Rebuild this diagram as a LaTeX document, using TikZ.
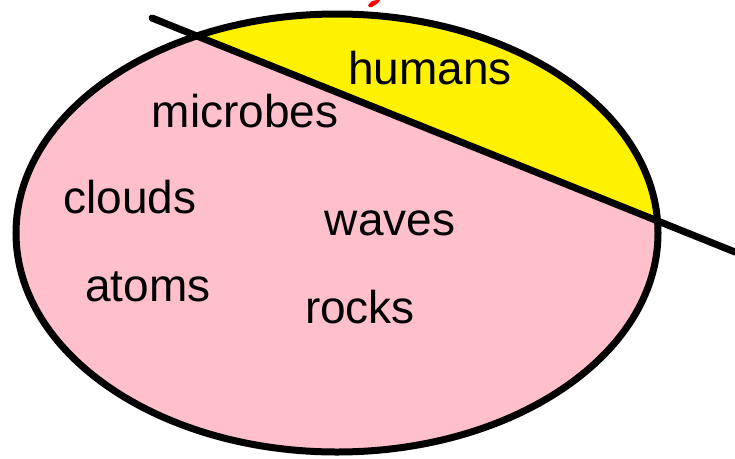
\documentclass[tikz,border=0pt]{standalone}
\usepackage{fontspec}
\setmainfont{Liberation Sans}
\definecolor{pinkfill}{RGB}{255,192,203}
\begin{document}
\begin{tikzpicture}[x=1pt,y=-1pt,
  lbl/.style={font=\fontsize{46}{50}\selectfont, inner sep=0pt, anchor=base},
  stroke/.style={line width=7pt}]
\useasboundingbox (0,0) rectangle (735,458);
\coordinate (c) at (337,233);
\coordinate (la) at (152,18);
\coordinate (lb) at (735,252);
% pink body
\fill[pinkfill] (c) ellipse [x radius=321, y radius=219];
% yellow part above the line
\begin{scope}
  \clip (la) -- (lb) -- (735,0) -- (0,0) -- cycle;
  \fill[yellow] (c) ellipse [x radius=321, y radius=219];
\end{scope}
\draw[stroke] (c) ellipse [x radius=321, y radius=219];
\draw[stroke, line cap=round] (la) -- (lb);
% small red fragment at top
\fill[red] (368,5) -- (372,1) -- (377,0) -- (380,0) -- (378,3) -- (372,7) -- (369,7) -- cycle;
% labels
\node[lbl] (humans) at (430,84) {humans};
\node[lbl] (microbes) at (245,127) {microbes};
\node[lbl] (clouds) at (130,213) {clouds};
\node[lbl] (waves) at (390,235) {waves};
\node[lbl] (atoms) at (148,301) {atoms};
\node[lbl] (rocks) at (360,323) {rocks};
\end{tikzpicture}
\end{document}
